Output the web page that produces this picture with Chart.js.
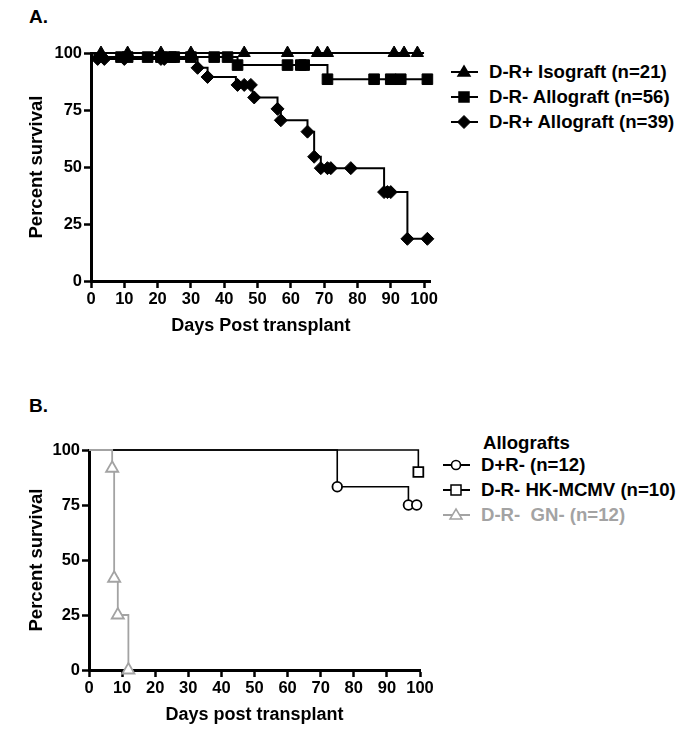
<!DOCTYPE html>
<html><head><meta charset="utf-8">
<script src="https://cdn.jsdelivr.net/npm/chart.js@4.4.0/dist/chart.umd.min.js"></script>
<style>
body{margin:0;background:#fff;width:682px;height:729px;position:relative;overflow:hidden;font-family:'Liberation Sans',Arial,sans-serif;font-weight:bold;color:#000;}
.abs{position:absolute;}
.lbl{font-size:19px;}
.leg{position:absolute;height:22px;display:flex;align-items:center;font-size:18.6px;white-space:pre;}
.leg svg{margin-right:11px;flex:none;}
</style></head><body>
<div class="abs lbl" style="left:29px;top:6px">A.</div>
<div class="abs lbl" style="left:29px;top:395px">B.</div>
<canvas id="cA" class="abs" width="440" height="340" style="left:0;top:0"></canvas>
<canvas id="cB" class="abs" width="440" height="329" style="left:0;top:400px"></canvas>
<div id="legA"></div><div id="legB"></div>
<script>
// ---------- tick labels ----------
const xTickDays = [0,10,20,30,40,50,60,70,80,90,100];
const yTickPct = [0,25,50,75,100];

// ---------- Panel A ----------
const seriesA = ['D-R+ Isograft (n=21)', 'D-R- Allograft (n=56)', 'D-R+ Allograft (n=39)'];
// D-R+ Isograft (triangles)
const isoStepDays = [0, 100];
const isoStepSurv = [100, 100];
const isoMarkDays = [3, 11, 21, 30, 46, 59, 68, 71, 91, 94, 98];
const isoMarkSurv = [100,100,100,100,100,100,100,100,100,100,100];
// D-R- Allograft (squares)
const sqStepDays = [0, 2, 44, 71, 101];
const sqStepSurv = [100, 98.2, 94.7, 88.5, 88.5];
const sqMarkDays = [9, 11, 17, 21, 24, 25, 30, 37, 41, 44, 59, 63, 64, 71, 85, 90, 93, 101];
const sqMarkSurv = [98.2,98.2,98.2,98.2,98.2,98.2,98.2,98.2,98.2,94.7,94.7,94.7,94.7,88.5,88.5,88.5,88.5,88.5];
// D-R+ Allograft (diamonds)
const dmStepDays = [0, 1, 32, 35, 43.5, 48.5, 56, 57, 65, 67, 69, 88, 95, 101];
const dmStepSurv = [100, 97.4, 93.5, 89.5, 86, 80.5, 75.5, 70.5, 65.5, 54.5, 49.5, 39, 18.5, 18.5];
const dmMarkDays = [2, 4, 10, 21, 22, 32, 35, 44, 46, 48, 49, 56, 57, 65, 67, 69, 71, 72, 78, 88, 89, 90, 95, 101];
const dmMarkSurv = [97.4,97.4,97.4,97.4,97.4,93.5,89.5,86,86,86,80.5,75.5,70.5,65.5,54.5,49.5,49.5,49.5,49.5,39,39,39,18.5,18.5];

// ---------- Panel B ----------
const legendTitleB = 'Allografts';
const seriesB = ['D+R- (n=12)', 'D-R- HK-MCMV (n=10)', 'D-R-  GN- (n=12)'];
// D+R- (circles)
const pmStepDays = [0, 75, 96.5, 99.5];
const pmStepSurv = [100, 83.3, 75, 75];
const pmMarkDays = [75, 96.5, 99];
const pmMarkSurv = [83.3, 75, 75];
// D-R- HK-MCMV (open squares)
const hkStepDays = [0, 99.5];
const hkStepSurv = [100, 90];
const hkMarkDays = [99.5];
const hkMarkSurv = [90];
// D-R- GN- (open grey triangles)
const gnStepDays = [0, 7, 7.6, 8.7, 11.9];
const gnStepSurv = [100, 91.7, 41.7, 25, 0];
const gnMarkDays = [7, 7.6, 8.7, 11.9];
const gnMarkSurv = [91.7, 41.7, 25, 0];

const GREY = '#a3a3a3';
const FONT = "'Liberation Sans', Arial, sans-serif";

function pts(d, s){ return d.map((v,i)=>({x:v, y:s[i]})); }
function stepDs(d, s, color, w){
  return {type:'line', data:pts(d,s), stepped:true, borderColor:color, borderWidth:w,
    pointRadius:0, pointHoverRadius:0, fill:false, clip:false, order:2};
}
function markDs(d, s, style, r, color, filled){
  return {type:'line', data:pts(d,s), showLine:false, pointStyle:style, pointRadius:r,
    pointHoverRadius:r, pointBackgroundColor: filled ? color : '#fff',
    pointBorderColor: color, pointBorderWidth: filled ? 1 : 1.8, clip:false, order:1};
}

function axes(xMax, yW, xH){
  const common = {
    border:{display:true, color:'#000', width:3},
    grid:{display:true, drawOnChartArea:false, drawTicks:true, tickLength:7, tickWidth:2.5, tickColor:'#000'},
  };
  return {
    x:{type:'linear', min:0, max:xMax, ...common,
      ticks:{color:'#000', font:{family:FONT, size:16.5, weight:'bold'}, padding:2, maxRotation:0, autoSkip:false},
      afterBuildTicks:(s)=>{ s.ticks = xTickDays.map(v=>({value:v})); },
      afterFit:(s)=>{ s.height = xH; },
      title:{display:true, text:'', color:'#000', font:{family:FONT, size:18, weight:'bold'}, padding:{top:0,bottom:3}}},
    y:{type:'linear', min:0, max:100, ...common,
      ticks:{color:'#000', font:{family:FONT, size:16.5, weight:'bold'}, padding:2},
      afterBuildTicks:(s)=>{ s.ticks = yTickPct.map(v=>({value:v})); },
      afterFit:(s)=>{ s.width = yW; },
      title:{display:true, text:'Percent survival', color:'#000', font:{family:FONT, size:18.5, weight:'bold'}, padding:{top:26,bottom:0}}}
  };
}

// Chart A
const scA = axes(102, 91, 59);
scA.x.title.text = 'Days Post transplant';
new Chart(document.getElementById('cA'), {
  type:'line',
  data:{datasets:[
    markDs(isoMarkDays, isoMarkSurv, 'triangle', 7, '#000', true),
    markDs(sqMarkDays, sqMarkSurv, 'rect', 7.5, '#000', true),
    markDs(dmMarkDays, dmMarkSurv, 'rectRot', 6.5, '#000', true),
    stepDs(isoStepDays, isoStepSurv, '#000', 2),
    stepDs(sqStepDays, sqStepSurv, '#000', 2),
    stepDs(dmStepDays, dmStepSurv, '#000', 2),
  ]},
  options:{responsive:false, animation:false, events:[],
    layout:{padding:{top:53, right:9, left:0, bottom:0}},
    plugins:{legend:{display:false}, tooltip:{enabled:false}},
    scales:scA}
});

// Chart B
const scB = axes(100, 89, 59);
scB.x.title.text = 'Days post transplant';
new Chart(document.getElementById('cB'), {
  type:'line',
  data:{datasets:[
    markDs(gnMarkDays, gnMarkSurv, 'triangle', 7, GREY, false),
    markDs(pmMarkDays, pmMarkSurv, 'circle', 4.8, '#000', false),
    markDs(hkMarkDays, hkMarkSurv, 'rect', 7, '#000', false),
    stepDs(gnStepDays, gnStepSurv, GREY, 1.8),
    stepDs(pmStepDays, pmStepSurv, '#000', 1.6),
    stepDs(hkStepDays, hkStepSurv, '#000', 1.6),
  ]},
  options:{responsive:false, animation:false, events:[],
    layout:{padding:{top:50, right:20, left:0, bottom:0}},
    plugins:{legend:{display:false}, tooltip:{enabled:false}},
    scales:scB}
});

// ---------- HTML legends ----------
function icon(kind, color, filled){
  const f = filled ? color : '#fff';
  let m = '';
  if(kind==='tri') m = `<polygon points="13,2 19,12 7,12" fill="${f}" stroke="${color}" stroke-width="1.5"/>`;
  if(kind==='sq') m = `<rect x="8" y="3" width="10" height="10" fill="${f}" stroke="${color}" stroke-width="1.5"/>`;
  if(kind==='dia') m = `<polygon points="13,1.5 19.5,8 13,14.5 6.5,8" fill="${f}" stroke="${color}" stroke-width="1"/>`;
  if(kind==='cir') m = `<circle cx="13" cy="8" r="4.5" fill="${f}" stroke="${color}" stroke-width="1.6"/>`;
  return `<svg width="27" height="16" viewBox="0 0 27 16"><line x1="0" y1="8" x2="27" y2="8" stroke="${color}" stroke-width="2"/>${m}</svg>`;
}
function addLeg(parent, left, cy, kind, color, filled, text, textColor){
  const d = document.createElement('div');
  d.className = 'leg';
  d.style.left = left + 'px'; d.style.top = (cy - 11) + 'px'; d.style.color = textColor;
  d.innerHTML = icon(kind, color, filled);
  const sp = document.createElement('span'); sp.textContent = text; d.appendChild(sp);
  parent.appendChild(d);
}
const legA = document.getElementById('legA');
addLeg(legA, 451, 72, 'tri', '#000', true, seriesA[0], '#000');
addLeg(legA, 451, 97, 'sq', '#000', true, seriesA[1], '#000');
addLeg(legA, 451, 122, 'dia', '#000', true, seriesA[2], '#000');

const legB = document.getElementById('legB');
const h = document.createElement('div');
h.className = 'leg'; h.style.left = '483px'; h.style.top = '432px'; h.textContent = legendTitleB;
legB.appendChild(h);
addLeg(legB, 443, 465, 'cir', '#000', false, seriesB[0], '#000');
addLeg(legB, 443, 490, 'sq', '#000', false, seriesB[1], '#000');
addLeg(legB, 443, 515, 'tri', GREY, false, seriesB[2], GREY);
</script>
</body></html>
